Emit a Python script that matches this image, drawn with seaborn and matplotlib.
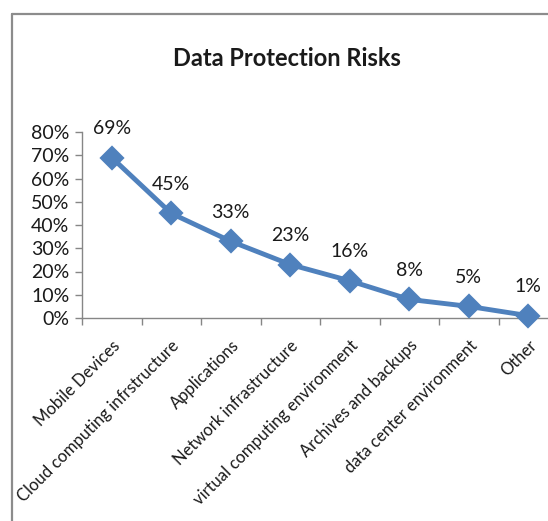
import matplotlib
matplotlib.use("Agg")
import matplotlib.pyplot as plt
import seaborn as sns
import numpy as np
import pandas as pd
from matplotlib.lines import Line2D
from matplotlib.ticker import FixedLocator, PercentFormatter

categories = ["Mobile Devices", "Cloud computing infrstructure", "Applications",
              "Network infrastructure", "virtual computing environment",
              "Archives and backups", "data center environment", "Other"]
values = [0.69, 0.45, 0.33, 0.23, 0.16, 0.08, 0.05, 0.01]
value_labels = ["69%", "45%", "33%", "23%", "16%", "8%", "5%", "1%"]
y_ticks = [0.0, 0.1, 0.2, 0.3, 0.4, 0.5, 0.6, 0.7, 0.8]
title = "Data Protection Risks"

sns.set_style("white")
plt.rcParams['font.family'] = ['Lato', 'DejaVu Sans']

W, H = 548, 521
fig = plt.figure(figsize=(W / 100, H / 100), dpi=100)
ax = fig.add_axes([82 / W, (H - 318) / H, (558 - 82) / W, (318 - 132) / H])

df = pd.DataFrame({"cat": categories, "val": values})
color = "#4F81BD"
sns.pointplot(data=df, x="cat", y="val", order=categories, color=color,
              marker="D", markersize=10, linewidth=3.5, ax=ax, errorbar=None)
for ln in ax.lines:
    ln.set_clip_on(False)
for c in ax.collections:
    c.set_clip_on(False)

ax.set_xlim(-0.5, len(categories) - 0.5)
ax.set_ylim(0, 0.8)
ax.set_yticks(y_ticks)
ax.yaxis.set_major_formatter(PercentFormatter(1.0, decimals=0))
ax.set_xlabel("")
ax.set_ylabel("")

for s in ["top", "right"]:
    ax.spines[s].set_visible(False)
for s in ["left", "bottom"]:
    ax.spines[s].set_color("#868686")
    ax.spines[s].set_linewidth(1.0)
    ax.spines[s].set_zorder(0)

ax.tick_params(axis="y", which="major", length=5, width=1, color="#868686",
               labelsize=14, pad=4, labelcolor="#1a1a1a", left=True)
ax.set_xticks(range(len(categories)))
ax.set_xticklabels(categories, rotation=45, ha="right", rotation_mode="anchor")
ax.tick_params(axis="x", which="major", length=0, labelsize=12, pad=14,
               labelcolor="#1a1a1a")
ax.xaxis.set_minor_locator(FixedLocator(np.arange(-0.5, len(categories), 1.0)))
ax.tick_params(axis="x", which="minor", length=5, width=1, color="#868686",
               bottom=True)

for i, (v, lab) in enumerate(zip(values, value_labels)):
    ax.annotate(lab, (i, v), xytext=(0, 21), textcoords="offset points",
                ha="center", va="center", fontsize=14, color="#1a1a1a",
                annotation_clip=False)

fig.text(287 / W, 1 - 58 / H, title, ha="center", va="center",
         fontsize=17, fontweight="bold", color="#1a1a1a")

# outer chart border (partially visible)
fig.add_artist(Line2D([11.5 / W, 11.5 / W], [0, 1 - 13.5 / H],
                      transform=fig.transFigure, color="#8c8c8c", linewidth=1.6))
fig.add_artist(Line2D([11.5 / W, 1.0], [1 - 13.5 / H, 1 - 13.5 / H],
                      transform=fig.transFigure, color="#8c8c8c", linewidth=1.6))

fig.savefig("out.png", dpi=100)
